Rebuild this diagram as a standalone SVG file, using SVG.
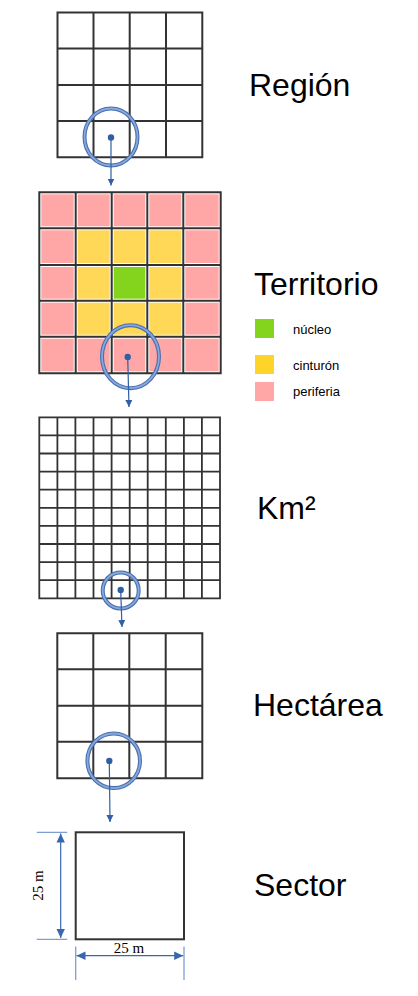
<svg xmlns="http://www.w3.org/2000/svg" width="418" height="996" viewBox="0 0 418 996">
<style>
.grid{fill:none;stroke:#333;stroke-width:2;stroke-linecap:square}
.fine{fill:none;stroke:#333;stroke-width:1.8}
.lbl{font-family:"Liberation Sans",Arial,sans-serif;font-size:32px;fill:#000}
.leg{font-family:"Liberation Sans",Arial,sans-serif;font-size:13px;fill:#000}
.dim{font-family:"Liberation Serif","Times New Roman",serif;font-size:15px;fill:#000}
.p{fill:#ffa6a6}.y{fill:#ffd858}.g{fill:#84d31c}
.ringO{fill:none;stroke:#4a6fae;stroke-width:4}
.ringI{fill:none;stroke:#86a8dc;stroke-width:1.8}
.dot{fill:#2f5fa6}
.conn{stroke:#2f5fa6;stroke-width:1.2;fill:none;marker-end:url(#ah)}
.dl{stroke:#3a66ad;stroke-width:1.2;fill:none}
.ext{stroke:#7f9fd3;stroke-width:1.3;fill:none}
</style>
<defs>
<marker id="ah" markerUnits="userSpaceOnUse" markerWidth="8" markerHeight="8" refX="7" refY="4" orient="auto"><path d="M0,0.5 L7,4 L0,7.5 z" fill="#2f5fa6"/></marker>
<marker id="ahs" markerUnits="userSpaceOnUse" markerWidth="10" markerHeight="10" refX="9" refY="5" orient="auto-start-reverse"><path d="M0,0.8 L9,5 L0,9.2 z" fill="#3a66ad"/></marker>
</defs>
<rect width="418" height="996" fill="#fff"/>

<g id="region">
<path class="grid" d="M57.5,12.5H202.3V157.3H57.5Z M93.5,12.5V157.3 M129.7,12.5V157.3 M166,12.5V157.3 M57.5,48.5H202.3 M57.5,85H202.3 M57.5,121H202.3"/>
<text class="lbl" x="249" y="96">Región</text>
</g>

<g id="territorio">
<rect x="39.3" y="192.3" width="181.4" height="181" fill="#fff"/>
<g>
<rect class="p" x="41.3" y="194.3" width="32.4" height="32"/>
<rect class="p" x="77.7" y="194.3" width="32" height="32"/>
<rect class="p" x="113.7" y="194.3" width="31.6" height="32"/>
<rect class="p" x="149.3" y="194.3" width="32" height="32"/>
<rect class="p" x="185.3" y="194.3" width="33.4" height="32"/>
<rect class="p" x="41.3" y="230.3" width="32.4" height="32.7"/>
<rect class="y" x="77.7" y="230.3" width="32" height="32.7"/>
<rect class="y" x="113.7" y="230.3" width="31.6" height="32.7"/>
<rect class="y" x="149.3" y="230.3" width="32" height="32.7"/>
<rect class="p" x="185.3" y="230.3" width="33.4" height="32.7"/>
<rect class="p" x="41.3" y="267" width="32.4" height="31.7"/>
<rect class="y" x="77.7" y="267" width="32" height="31.7"/>
<rect class="g" x="113.7" y="267" width="31.6" height="31.7"/>
<rect class="y" x="149.3" y="267" width="32" height="31.7"/>
<rect class="p" x="185.3" y="267" width="33.4" height="31.7"/>
<rect class="p" x="41.3" y="302.7" width="32.4" height="32"/>
<rect class="y" x="77.7" y="302.7" width="32" height="32"/>
<rect class="y" x="113.7" y="302.7" width="31.6" height="32"/>
<rect class="y" x="149.3" y="302.7" width="32" height="32"/>
<rect class="p" x="185.3" y="302.7" width="33.4" height="32"/>
<rect class="p" x="41.3" y="338.7" width="32.4" height="32.6"/>
<rect class="p" x="77.7" y="338.7" width="32" height="32.6"/>
<rect class="p" x="113.7" y="338.7" width="31.6" height="32.6"/>
<rect class="p" x="149.3" y="338.7" width="32" height="32.6"/>
<rect class="p" x="185.3" y="338.7" width="33.4" height="32.6"/>
</g>
<path class="grid" d="M39.3,192.3H220.7V373.3H39.3Z M75.7,192.3V373.3 M111.7,192.3V373.3 M147.3,192.3V373.3 M183.3,192.3V373.3 M39.3,228.3H220.7 M39.3,265H220.7 M39.3,300.7H220.7 M39.3,336.7H220.7"/>
<text class="lbl" x="254" y="295">Territorio</text>
</g>

<g id="legend">
<rect class="g" x="255" y="319" width="19" height="19"/>
<text class="leg" x="293" y="334">núcleo</text>
<rect x="255" y="355" width="19" height="19" fill="#ffd42a"/>
<text class="leg" x="293" y="370">cinturón</text>
<rect class="p" x="255" y="382" width="19" height="19"/>
<text class="leg" x="293" y="396">periferia</text>
</g>

<g id="km2">
<path class="fine" d="M39.3,417.3H220V598.3H39.3Z M57.4,417.3V598.3 M75.4,417.3V598.3 M93.5,417.3V598.3 M111.6,417.3V598.3 M129.7,417.3V598.3 M147.7,417.3V598.3 M165.8,417.3V598.3 M183.9,417.3V598.3 M201.9,417.3V598.3 M39.3,435.4H220 M39.3,453.5H220 M39.3,471.6H220 M39.3,489.7H220 M39.3,507.8H220 M39.3,525.9H220 M39.3,544H220 M39.3,562.1H220 M39.3,580.2H220"/>
<text class="lbl" x="257" y="519">Km²</text>
</g>

<g id="hectarea">
<path class="grid" d="M57.3,633.3H202.3V778.3H57.3Z M93.3,633.3V778.3 M129.3,633.3V778.3 M165.7,633.3V778.3 M57.3,669.3H202.3 M57.3,705.7H202.3 M57.3,741.7H202.3"/>
<text class="lbl" x="253" y="716">Hectárea</text>
</g>

<g id="sector">
<rect x="75.7" y="832.3" width="108.3" height="107" fill="none" stroke="#333" stroke-width="2"/>
<path class="ext" d="M36.7,832.3H67.3 M36.7,939.3H67.3 M75.7,946.5V980 M184,946.5V980"/>
<path class="dl" d="M60.7,833.5V938" marker-start="url(#ahs)" marker-end="url(#ahs)"/>
<path class="dl" d="M76.5,955.7H183.2" marker-start="url(#ahs)" marker-end="url(#ahs)"/>
<text class="dim" transform="translate(43,885.5) rotate(-90)" text-anchor="middle">25 m</text>
<text class="dim" x="129" y="953" text-anchor="middle">25 m</text>
<text class="lbl" x="254" y="896">Sector</text>
</g>

<g id="connectors">
<ellipse class="ringO" cx="111" cy="137" rx="26.5" ry="28.5"/>
<ellipse class="ringI" cx="111" cy="137" rx="26.5" ry="28.5"/>
<circle class="dot" cx="111" cy="137.5" r="3.2"/>
<path class="conn" d="M111,137.5V185.5"/>

<ellipse class="ringO" cx="130.5" cy="356.7" rx="28.5" ry="31.5"/>
<ellipse class="ringI" cx="130.5" cy="356.7" rx="28.5" ry="31.5"/>
<circle class="dot" cx="127.7" cy="357" r="3.2"/>
<path class="conn" d="M127.7,357L129,407"/>

<ellipse class="ringO" cx="120.7" cy="590.5" rx="18" ry="18"/>
<ellipse class="ringI" cx="120.7" cy="590.5" rx="18" ry="18"/>
<circle class="dot" cx="120.7" cy="590" r="3.2"/>
<path class="conn" d="M120.7,590L122,627"/>

<ellipse class="ringO" cx="113.7" cy="760.8" rx="26.3" ry="27.3"/>
<ellipse class="ringI" cx="113.7" cy="760.8" rx="26.3" ry="27.3"/>
<circle class="dot" cx="109.3" cy="761" r="3.2"/>
<path class="conn" d="M109.3,761L110,822"/>
</g>
</svg>
